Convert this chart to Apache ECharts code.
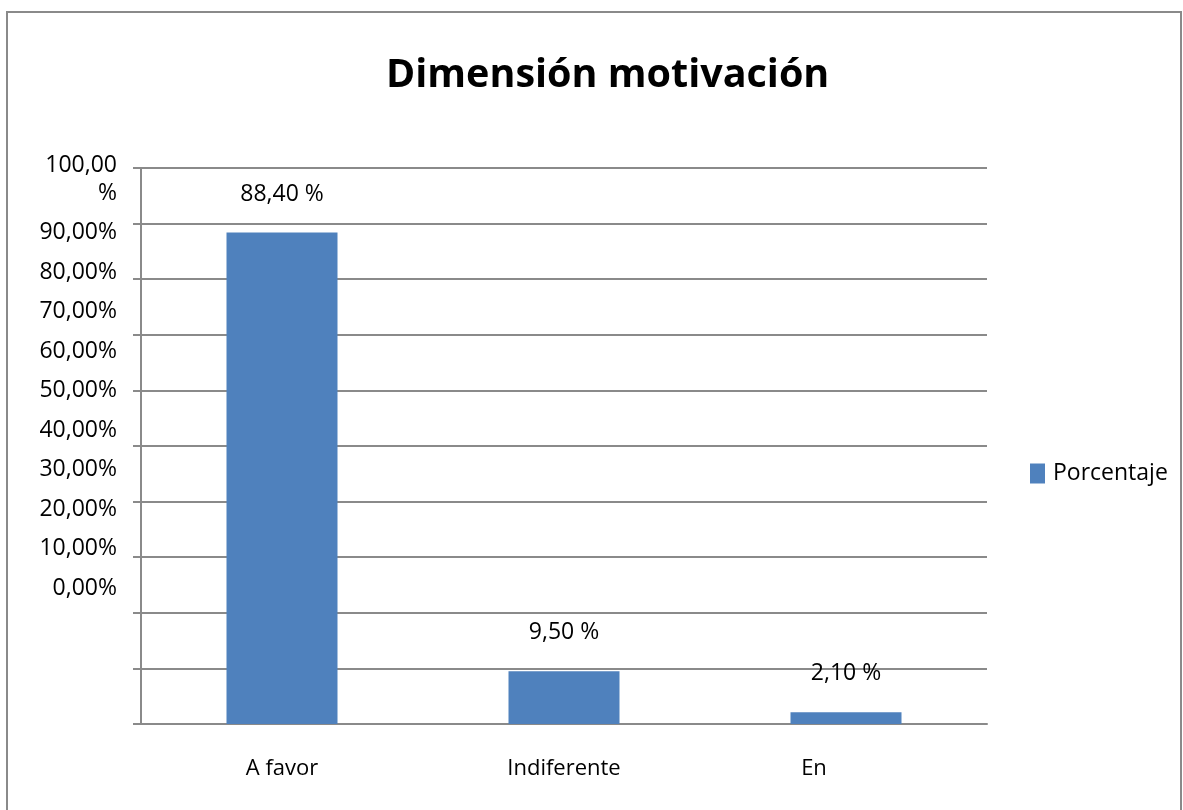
<!DOCTYPE html>
<html>
<head>
<meta charset="utf-8">
<script src="https://cdn.jsdelivr.net/npm/echarts@6/dist/echarts.min.js"></script>
<style>
  html, body { margin: 0; padding: 0; background: #fff; }
  #chart { width: 1183px; height: 810px; }
</style>
</head>
<body>
<div id="chart"></div>
<script>
const categories = ["A favor", "Indiferente", "En"];
const porcentaje = [88.4, 9.5, 2.1];
const dataLabels = ["88,40 %", "9,50 %", "2,10 %"];
// etiquetas del eje Y tal como aparecen (desfasadas respecto a las líneas)
const yTickLabels = ["0,00%", "10,00%", "20,00%", "30,00%", "40,00%", "50,00%",
  "60,00%", "70,00%", "80,00%", "90,00%", "100,00\n%"];

const chart = echarts.init(document.getElementById("chart"));
const font = "'Open Sans', sans-serif";
const gray = "#8a8a8a";

chart.setOption({
  backgroundColor: "#fff",
  animation: false,
  textStyle: { fontFamily: font, color: "#000" },
  title: {
    text: "Dimensión motivación",
    left: 381,
    top: 51,
    textStyle: { fontFamily: font, fontSize: 39.5, fontWeight: "bold", color: "#000" },
  },
  legend: {
    left: 1030,
    top: 462,
    padding: 0,
    icon: "rect",
    itemWidth: 15,
    itemHeight: 20,
    textStyle: { fontFamily: font, fontSize: 23, color: "#000", padding: [0, 0, 0, 3] },
    data: ["Porcentaje"],
  },
  grid: [
    { left: 141, right: 196, top: 168, bottom: 86 },
    // rejilla auxiliar sólo para las etiquetas del eje Y
    { left: 141, width: 10, top: 207, height: 395 },
  ],
  xAxis: [
    {
      type: "category",
      data: categories,
      gridIndex: 0,
      axisLine: { lineStyle: { color: gray, width: 2 } },
      axisTick: { length: 11, lineStyle: { color: gray, width: 2 } },
      axisLabel: {
        margin: 34,
        fontSize: 22,
        color: "#000",
        fontFamily: font,
        formatter: (v) => (v === "En" ? "{e|En}" : v),
        rich: { e: { fontSize: 22, fontFamily: font, color: "#000", padding: [0, 64, 0, 0] } },
      },
    },
    { type: "value", gridIndex: 1, show: false },
  ],
  yAxis: [
    {
      type: "value",
      gridIndex: 0,
      min: 0,
      max: 100,
      interval: 10,
      axisLine: { show: true, lineStyle: { color: gray, width: 2 } },
      axisTick: { show: true, length: 8, lineStyle: { color: gray, width: 2 } },
      axisLabel: { show: false },
      splitLine: { lineStyle: { color: gray, width: 2 } },
    },
    {
      type: "value",
      gridIndex: 1,
      min: 0,
      max: 100,
      interval: 10,
      axisLine: { show: false },
      axisTick: { show: false },
      splitLine: { show: false },
      axisLabel: {
        margin: 24,
        fontSize: 23,
        lineHeight: 28,
        verticalAlign: "bottom",
        color: "#000",
        fontFamily: font,
        showMinLabel: true,
        showMaxLabel: true,
        formatter: (v) => yTickLabels[Math.round(v / 10)],
      },
    },
  ],
  series: [
    {
      name: "Porcentaje",
      type: "bar",
      xAxisIndex: 0,
      yAxisIndex: 0,
      data: porcentaje,
      barWidth: 111,
      itemStyle: { color: "#4f81bd" },
      label: {
        show: true,
        position: "top",
        distance: 27,
        fontSize: 23,
        color: "#000",
        fontFamily: font,
        formatter: (p) => dataLabels[p.dataIndex],
      },
    },
  ],
  graphic: [
    {
      type: "rect",
      shape: { x: 7, y: 12, width: 1174, height: 830 },
      style: { fill: "none", stroke: gray, lineWidth: 2 },
      silent: true,
    },
  ],
});

window.addEventListener("resize", () => chart.resize());
</script>
</body>
</html>
